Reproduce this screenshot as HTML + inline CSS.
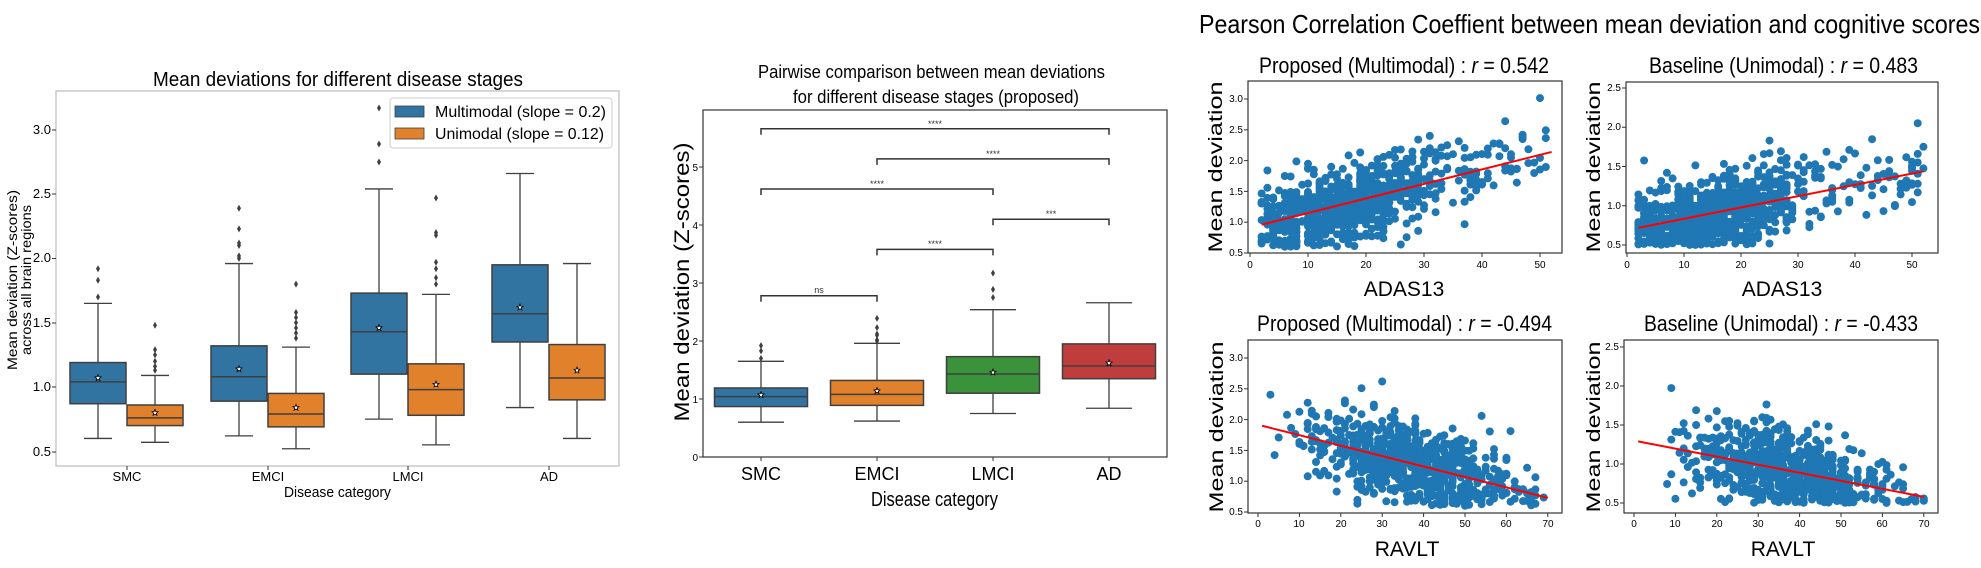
<!DOCTYPE html>
<html><head><meta charset="utf-8"><style>
html,body{margin:0;padding:0;background:#fff;}
svg{display:block;font-family:"Liberation Sans",sans-serif;}
</style></head><body>
<svg id="s" width="1981" height="568" viewBox="0 0 1981 568" xmlns="http://www.w3.org/2000/svg">
<g id="shapes"></g>
<g fill="#000">
<text x="153" y="86" font-size="20" textLength="370" lengthAdjust="spacingAndGlyphs">Mean deviations for different disease stages</text>
<g font-size="13" text-anchor="end">
<text x="51" y="456">0.5</text><text x="51" y="391">1.0</text><text x="51" y="327">1.5</text><text x="51" y="262">2.0</text><text x="51" y="198">2.5</text><text x="51" y="134">3.0</text>
</g>
<g font-size="13" text-anchor="middle">
<text x="127" y="481">SMC</text><text x="268" y="481">EMCI</text><text x="408" y="481">LMCI</text><text x="549" y="481">AD</text>
</g>
<text x="284" y="497" font-size="15" textLength="107" lengthAdjust="spacingAndGlyphs">Disease category</text>
<text transform="translate(17,280) rotate(-90)" font-size="14" text-anchor="middle" textLength="180" lengthAdjust="spacingAndGlyphs">Mean deviation (Z-scores)</text>
<text transform="translate(31,280) rotate(-90)" font-size="14" text-anchor="middle" textLength="150" lengthAdjust="spacingAndGlyphs">across all brain regions</text>
<text x="435" y="117" font-size="16" textLength="171" lengthAdjust="spacingAndGlyphs">Multimodal (slope = 0.2)</text>
<text x="435" y="139" font-size="16" textLength="169" lengthAdjust="spacingAndGlyphs">Unimodal (slope = 0.12)</text>

<text x="758" y="78" font-size="18" textLength="347" lengthAdjust="spacingAndGlyphs">Pairwise comparison between mean deviations</text>
<text x="793" y="103" font-size="18" textLength="286" lengthAdjust="spacingAndGlyphs">for different disease stages (proposed)</text>
<g font-size="10" text-anchor="end">
<text x="698" y="461">0</text><text x="698" y="403">1</text><text x="698" y="345">2</text><text x="698" y="287">3</text><text x="698" y="229">4</text><text x="698" y="171">5</text>
</g>
<g font-size="18" text-anchor="middle">
<text x="761" y="480">SMC</text><text x="877" y="480">EMCI</text><text x="993" y="480">LMCI</text><text x="1109" y="480">AD</text>
</g>
<text x="871" y="506" font-size="20" textLength="127" lengthAdjust="spacingAndGlyphs">Disease category</text>
<text transform="translate(689,282) rotate(-90)" font-size="21" text-anchor="middle" textLength="279" lengthAdjust="spacingAndGlyphs">Mean deviation (Z-scores)</text>
<g font-size="9" text-anchor="middle" fill="#333">
<text x="819" y="293">ns</text><text x="935" y="247">****</text><text x="1051" y="217">***</text><text x="877" y="187">****</text><text x="993" y="157">****</text><text x="935" y="127">****</text>
</g>

<text x="1199" y="33" font-size="26" textLength="781" lengthAdjust="spacingAndGlyphs">Pearson Correlation Coeffient between mean deviation and cognitive scores</text>
<text x="1259" y="73" font-size="22" textLength="290" lengthAdjust="spacingAndGlyphs">Proposed (Multimodal) : <tspan font-style="italic">r</tspan> = 0.542</text>
<text x="1649" y="73" font-size="22" textLength="269" lengthAdjust="spacingAndGlyphs">Baseline (Unimodal) : <tspan font-style="italic">r</tspan> = 0.483</text>
<text x="1257" y="331" font-size="22" textLength="295" lengthAdjust="spacingAndGlyphs">Proposed (Multimodal) : <tspan font-style="italic">r</tspan> = -0.494</text>
<text x="1644" y="331" font-size="22" textLength="274" lengthAdjust="spacingAndGlyphs">Baseline (Unimodal) : <tspan font-style="italic">r</tspan> = -0.433</text>
<g font-size="21" text-anchor="middle">
<text x="1404" y="296">ADAS13</text><text x="1782" y="296">ADAS13</text>
<text x="1407" y="556">RAVLT</text><text x="1783" y="556">RAVLT</text>
</g>
<g font-size="19" text-anchor="middle">
<text transform="translate(1222,167) rotate(-90)" textLength="171" lengthAdjust="spacingAndGlyphs">Mean deviation</text>
<text transform="translate(1600,167) rotate(-90)" textLength="171" lengthAdjust="spacingAndGlyphs">Mean deviation</text>
<text transform="translate(1223,427) rotate(-90)" textLength="171" lengthAdjust="spacingAndGlyphs">Mean deviation</text>
<text transform="translate(1600,427) rotate(-90)" textLength="171" lengthAdjust="spacingAndGlyphs">Mean deviation</text>
</g>
<g font-size="10" text-anchor="end">
<text x="1243" y="256">0.5</text><text x="1243" y="225">1.0</text><text x="1243" y="195">1.5</text><text x="1243" y="164">2.0</text><text x="1243" y="133">2.5</text><text x="1243" y="102">3.0</text>
<text x="1621" y="248">0.5</text><text x="1621" y="209">1.0</text><text x="1621" y="170">1.5</text><text x="1621" y="130">2.0</text><text x="1621" y="91">2.5</text>
<text x="1243" y="515">0.5</text><text x="1243" y="484">1.0</text><text x="1243" y="454">1.5</text><text x="1243" y="423">2.0</text><text x="1243" y="392">2.5</text><text x="1243" y="361">3.0</text>
<text x="1619" y="506">0.5</text><text x="1619" y="467">1.0</text><text x="1619" y="428">1.5</text><text x="1619" y="389">2.0</text><text x="1619" y="350">2.5</text>
</g>
<g font-size="10" text-anchor="middle">
<text x="1250" y="268">0</text><text x="1308" y="268">10</text><text x="1366" y="268">20</text><text x="1424" y="268">30</text><text x="1482" y="268">40</text><text x="1540" y="268">50</text>
<text x="1627" y="268">0</text><text x="1684" y="268">10</text><text x="1741" y="268">20</text><text x="1798" y="268">30</text><text x="1855" y="268">40</text><text x="1912" y="268">50</text>
<text x="1258" y="527">0</text><text x="1299" y="527">10</text><text x="1341" y="527">20</text><text x="1382" y="527">30</text><text x="1424" y="527">40</text><text x="1465" y="527">50</text><text x="1506" y="527">60</text><text x="1548" y="527">70</text>
<text x="1634" y="527">0</text><text x="1675" y="527">10</text><text x="1717" y="527">20</text><text x="1758" y="527">30</text><text x="1800" y="527">40</text><text x="1841" y="527">50</text><text x="1882" y="527">60</text><text x="1924" y="527">70</text>
</g>
</g>
</svg>
<script>
(function(){
var g=document.getElementById('shapes'),h='';
function L(x1,y1,x2,y2,c,w){h+='<line x1="'+x1+'" y1="'+y1+'" x2="'+x2+'" y2="'+y2+'" stroke="'+(c||'#3f3f3f')+'" stroke-width="'+(w||1.3)+'"/>';}
function R(x,y,w,hh,f,s,sw){h+='<rect x="'+x+'" y="'+y+'" width="'+w+'" height="'+hh+'" fill="'+f+'" stroke="'+(s||'#3f3f3f')+'" stroke-width="'+(sw||1.5)+'"/>';}
function box(cx,bw,cw,ym,d,col){
 L(cx,ym(d[0]),cx,ym(d[1]));L(cx,ym(d[3]),cx,ym(d[4]));
 L(cx-cw/2,ym(d[0]),cx+cw/2,ym(d[0]));L(cx-cw/2,ym(d[4]),cx+cw/2,ym(d[4]));
 R(cx-bw/2,ym(d[3]),bw,ym(d[1])-ym(d[3]),col);
 L(cx-bw/2,ym(d[2]),cx+bw/2,ym(d[2]),'#3f3f3f',1.5);
 var my=ym(d[5]);
 h+='<polygon points="'+star(cx,my,3.2)+'" fill="#fff" stroke="#000" stroke-width="0.8"/>';
 (d[6]||[]).forEach(function(v){var y=ym(v);h+='<polygon points="'+cx+','+(y-3.5)+' '+(cx+2)+','+y+' '+cx+','+(y+3.5)+' '+(cx-2)+','+y+'" fill="#3f3f3f"/>';});
}
function star(x,y,r){var p=[];for(var i=0;i<10;i++){var a=-Math.PI/2+i*Math.PI/5,rr=i%2?r*0.45:r;p.push((x+rr*Math.cos(a)).toFixed(1)+','+(y+rr*Math.sin(a)).toFixed(1));}return p.join(' ');}
var B='#3274a1',O='#e1812c',G='#3a923a',Rd='#c03d3e';
var mm=[[0.6,0.87,1.04,1.19,1.65,1.07,[1.7,1.83,1.92]],
 [0.62,0.89,1.08,1.32,1.96,1.14,[2.0,2.02,2.1,2.12,2.23,2.39]],
 [0.75,1.1,1.43,1.73,2.54,1.46,[2.75,2.89,3.17]],
 [0.84,1.35,1.57,1.95,2.66,1.62,[]]];
var um=[[0.57,0.7,0.76,0.86,1.09,0.8,[1.13,1.16,1.2,1.25,1.29,1.48]],
 [0.52,0.69,0.79,0.95,1.31,0.84,[1.38,1.42,1.46,1.5,1.54,1.58,1.8]],
 [0.55,0.78,0.98,1.18,1.72,1.02,[1.8,1.85,1.92,1.97,2.18,2.2,2.47]],
 [0.6,0.9,1.07,1.33,1.96,1.13,[]]];
var yL=function(v){return 387-(v-1)*128.6;};
R(56,91,563,375,'#fff','#bbb',1.2);
[130,194,258.5,323,387,452].forEach(function(y){L(52,y,56,y,'#333',1);});
var cL=[127,268,408,549];
cL.forEach(function(c,i){L(c,466,c,470,'#333',1);box(c-29,56,28,yL,mm[i],B);box(c+28,56,28,yL,um[i],O);});
h+='<rect x="390" y="98" width="222" height="50" rx="3" fill="#fff" fill-opacity="0.85" stroke="#ccc"/>';
R(395,106,29,11,B,'#3f3f3f',0.8);R(395,128,29,11,O,'#3f3f3f',0.8);
var yM=function(v){return 457-58*v;};
R(703,110,464,347,'#fff','#333',1.2);
[0,1,2,3,4,5].forEach(function(v){L(699,yM(v),703,yM(v),'#333',1);});
var cM=[761,877,993,1109],cols=[B,O,G,Rd];
cM.forEach(function(c,i){L(c,457,c,461,'#333',1);box(c,93,46,yM,mm[i],cols[i]);});
[[0,1,2.78],[1,2,3.58],[2,3,4.1],[0,2,4.62],[1,3,5.14],[0,3,5.66]].forEach(function(b){
 var y=yM(b[2]);h+='<polyline points="'+cM[b[0]]+','+(y+6)+' '+cM[b[0]]+','+y+' '+cM[b[1]]+','+y+' '+cM[b[1]]+','+(y+6)+'" fill="none" stroke="#333" stroke-width="1.5"/>';});
var seed=12345;function rnd(){seed=(seed*1103515245+12345)%2147483648;return seed/2147483648;}
function nrm(){var u=rnd()||1e-6,v=rnd();return Math.sqrt(-2*Math.log(u))*Math.cos(2*Math.PI*v);}
function scat(fx,fy,fw,fh,xm,ym,xt,yt,n,xg,a,b,sd,ymin,ymax,x1,x2){
 R(fx,fy,fw,fh,'#fff','#333',1.2);
 xt.forEach(function(t){L(xm(t),fy+fh,xm(t),fy+fh+4,'#333',1);});
 yt.forEach(function(t){L(fx-4,ym(t),fx,ym(t),'#333',1);});
 var c='';
 for(var i=0;i<n;i++){var x=xg();var y=a+b*x+nrm()*sd;if(y<ymin)y=ymin+rnd()*0.15;if(y>ymax)y=ymax-rnd()*0.3;
  c+='<circle cx="'+xm(x).toFixed(1)+'" cy="'+ym(y).toFixed(1)+'" r="4"/>';}
 h+='<g fill="#1f77b4">'+c+'</g>';
 L(xm(x1),ym(a+b*x1),xm(x2),ym(a+b*x2),'#ff0000',2);
}
function adas(){var r=rnd();var x;if(r<0.85){x=Math.round(15+nrm()*8);if(x<2)x=2+Math.round(rnd()*6);if(x>36)x=20+Math.round(rnd()*16);}else{x=20+Math.round(rnd()*32);}return x;}
function ravlt(){var x=Math.round(37+nrm()*12);if(x<1)x=1+Math.round(rnd()*10);if(x>70)x=70-Math.round(rnd()*8);return x;}
scat(1248,81,314,172,function(x){return 1250+5.8*x;},function(v){return 253-(v-0.5)*61.6;},[0,10,20,30,40,50],[0.5,1,1.5,2,2.5,3],750,adas,0.913,0.0236,0.32,0.6,3.15,2,52);
scat(1626,82,312,171,function(x){return 1627+5.7*x;},function(v){return 245-(v-0.5)*78.5;},[0,10,20,30,40,50],[0.5,1,1.5,2,2.5],750,adas,0.69,0.0144,0.24,0.5,2.45,2,52);
scat(1248,340,314,173,function(x){return 1258+4.14*x;},function(v){return 512-(v-0.5)*61.6;},[0,10,20,30,40,50,60,70],[0.5,1,1.5,2,2.5,3],750,ravlt,1.917,-0.01696,0.32,0.6,3.15,1,70);
scat(1624,340,314,173,function(x){return 1634+4.14*x;},function(v){return 503-(v-0.5)*78;},[0,10,20,30,40,50,60,70],[0.5,1,1.5,2,2.5],750,ravlt,1.30,-0.0103,0.24,0.5,2.45,1,70);
g.innerHTML=h;
})();
</script>
</body></html>
